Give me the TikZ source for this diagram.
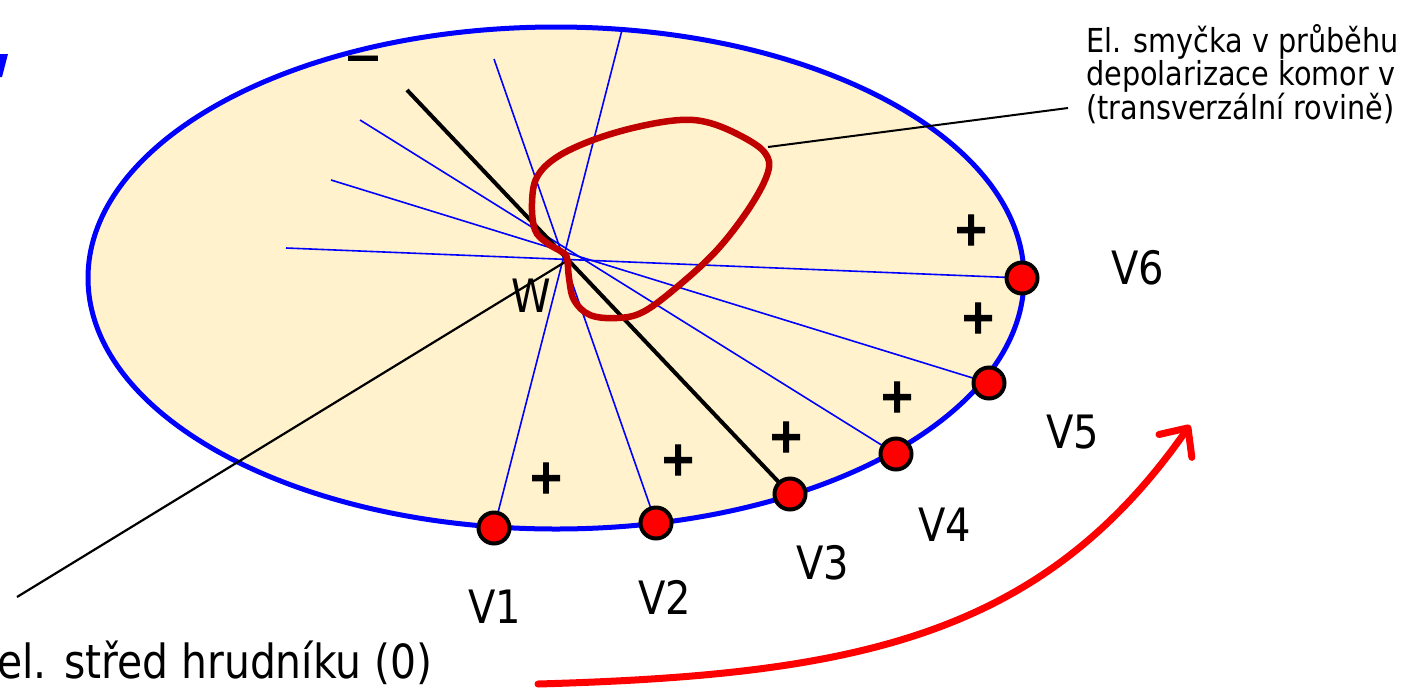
\documentclass[tikz,border=0pt]{standalone}
\usepackage{fontspec}
\setmainfont{DejaVu Sans}[FakeStretch=0.87]
\newfontfamily\signfont{DejaVu Sans Bold}[FakeStretch=0.9, FakeBold=2]
\usetikzlibrary{arrows.meta}
\definecolor{bgfill}{RGB}{255,242,204}
\definecolor{loopred}{RGB}{192,0,0}
\definecolor{pureblue}{RGB}{0,0,255}
\definecolor{purered}{RGB}{255,0,0}
\tikzset{
  ray/.style={draw=pureblue, line width=1.6pt},
  mainray/.style={draw=black, line width=4pt},
  electrode/.style={circle, fill=purered, draw=black, line width=4pt, minimum size=31pt, inner sep=0pt},
  vlabel/.style={inner sep=0pt, font=\fontsize{46}{50}\selectfont},
  plus/.style={inner sep=0pt, font=\fontsize{48}{52}\signfont},
}
\begin{document}
\begin{tikzpicture}[x=1pt,y=-1pt]
\useasboundingbox (0,0) rectangle (1416,689);
% cut-off title letter
\fill[pureblue] (0,54) -- (8,54) -- (2,77) -- (0,77) -- cycle;
% thorax cross-section
\draw[pureblue, line width=5pt, fill=bgfill] (556,278) ellipse [x radius=468, y radius=251];
% electrode positions
\coordinate (p1) at (494,528);
\coordinate (p2) at (656,523);
\coordinate (p3) at (790,494);
\coordinate (p4) at (896,454);
\coordinate (p5) at (989,383);
\coordinate (p6) at (1022,278);
% free ends of rays
\coordinate (t1) at (622,30);
\coordinate (t2) at (494,59);
\coordinate (t3) at (407,90);
\coordinate (t4) at (360,120);
\coordinate (t5) at (331,180);
\coordinate (t6) at (286,248);
\coordinate (wc) at (565,262);
\coordinate (zero) at (17,597);
% rays
\draw[ray] (t1) -- (p1);
\draw[ray] (t2) -- (p2);
\draw[ray] (t4) -- (p4);
\draw[ray] (t5) -- (p5);
\draw[ray] (t6) -- (p6);
\draw[mainray] (t3) -- (p3);
\draw[black, line width=2.2pt] (wc) -- (zero);
% vector loop
\draw[loopred, line width=6.5pt, line join=round] plot[smooth cycle, tension=0.6] coordinates {
  (567,258) (569,278) (574,300) (590,315) (617,318) (643,312) (677,287) (717,250)
  (750,207) (768,172) (765,153) (743,137) (710,123) (680,120) (637,127) (593,140)
  (557,157) (537,177) (532,203) (535,230) (547,243) (562,252)};
\coordinate (loopr) at (768,147);
% electrodes
\node[electrode] (v1) at (p1) {};
\node[electrode] (v2) at (p2) {};
\node[electrode] (v3) at (p3) {};
\node[electrode] (v4) at (p4) {};
\node[electrode] (v5) at (p5) {};
\node[electrode] (v6) at (p6) {};
% labels
\node[vlabel] (l1) at (495,607) {V1};
\node[vlabel] (l2) at (665,597) {V2};
\node[vlabel] (l3) at (823,563) {V3};
\node[vlabel] (l4) at (945,525) {V4};
\node[vlabel] (l5) at (1073,432) {V5};
\node[vlabel] (l6) at (1138,268) {V6};
\node[vlabel] (w) at (531,296) {W};
% signs
\node[plus] (s1) at (546,478) {+};
\node[plus] (s2) at (678,460) {+};
\node[plus] (s3) at (786,437) {+};
\node[plus] (s4) at (897,397) {+};
\node[plus] (s5) at (978,318) {+};
\node[plus] (s6) at (971,230) {+};
\node[inner sep=0pt, font=\fontsize{36}{40}\signfont] (m) at (363,62) {—};
% texts
\node[inner sep=0pt, anchor=base west, font=\fontsize{47}{50}\selectfont] (zt) at (-3,678) {el. střed hrudníku (0)};
\node[inner sep=0pt, anchor=north west, align=left, font=\fontsize{33}{30}\selectfont] (cap) at (1086,24) {El. smyčka v průběhu\\depolarizace komor v\\(transverzální rovině)};
\coordinate (capend) at (1068,108);
\draw[black, line width=2pt] (loopr) -- (capend);
% rotation arrow
\coordinate (a0) at (538,684);
\coordinate (a1) at (1190,425);
\draw[purered, line width=7pt, line cap=round, -{Straight Barb[length=22pt, width=40pt, round]}] (a0) .. controls (850,675) and (1040,640) .. (a1);
\end{tikzpicture}
\end{document}
